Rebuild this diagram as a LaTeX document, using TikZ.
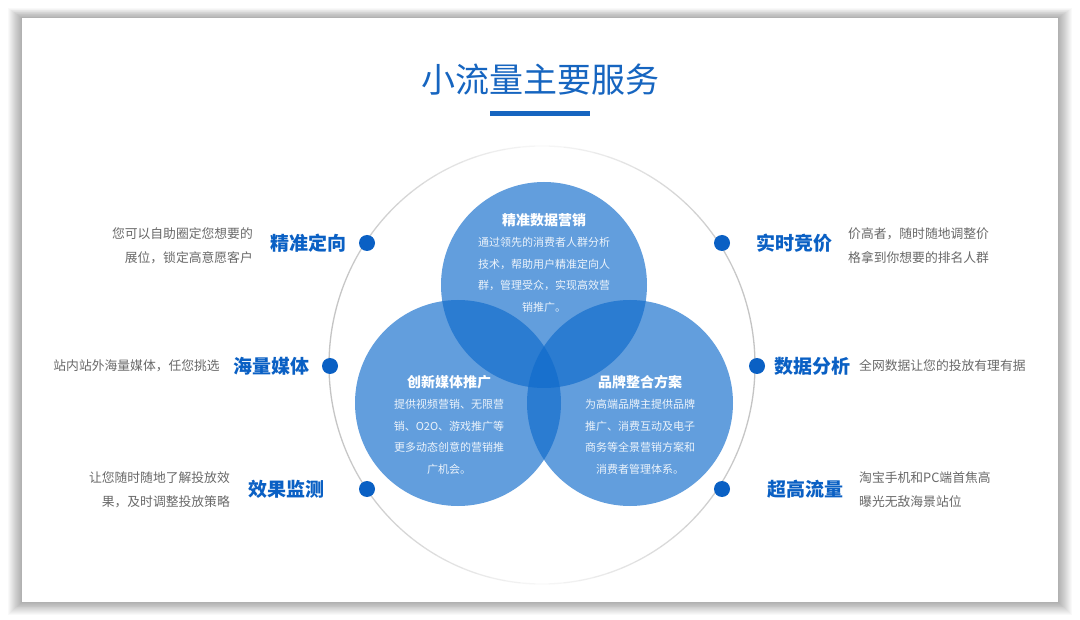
\documentclass[tikz,border=0pt]{standalone}
\usepackage{fontspec}
\setmainfont{Noto Sans CJK SC}
\usetikzlibrary{positioning}
\definecolor{titleblue}{RGB}{22,101,192}
\definecolor{keyblue}{RGB}{10,96,196}
\definecolor{vennblue}{RGB}{14,106,203}
\definecolor{descgray}{RGB}{105,105,105}
\definecolor{ringgray}{RGB}{165,165,165}

\begin{document}
\begin{tikzpicture}[x=1pt, y=-1pt,
    every node/.style={inner sep=0pt},
    venn/.style={circle, fill=vennblue, fill opacity=0.65, minimum size=206pt},
    venntitle/.style={text=white, font=\fontsize{14}{16}\selectfont\bfseries},
    vennbody/.style={text=white!92!vennblue, align=center, font=\fontsize{11}{21.5}\selectfont},
    keydot/.style={circle, fill=keyblue, minimum size=16pt},
    keylabel/.style={text=keyblue, font=\fontsize{19}{22}\selectfont\bfseries},
    keydesc/.style={text=descgray, font=\fontsize{12.8}{24}\selectfont}]
        \useasboundingbox[fill=white] (0,0) rectangle (1080,620);

        % slide and its shadow
        \foreach \i in {1,...,14}
            \fill[black, opacity=0.022] (22-\i,18-0.7*\i) rectangle (1058+\i,602+0.9*\i);
        \fill[white] (22,18) rectangle (1058,602);

        \node[text=titleblue, font=\fontsize{34}{40}\selectfont] (title) at (540,80) {小流量主要服务};
        \node[fill=titleblue, minimum width=100pt, minimum height=5pt] (bar) at (540,113.5) {};

        % outer ring, faint at top and bottom
        \coordinate (ring) at (542,365);
        \foreach \a in {0,4,...,356}{
            \pgfmathsetmacro\op{0.06+0.6*abs(cos(\a+2))}
            \draw[ringgray, line width=1.3pt, draw opacity=\op] (ring) ++(\a:213 and 219) arc[start angle=\a, end angle=\a+4, x radius=213, y radius=219];
        }

        \node[venn] (vtop) at (544,285) {};
        \node[venn] (vleft) at (458,403) {};
        \node[venn] (vright) at (630,403) {};

        \node[venntitle] (ttop) at (544,220) {精准数据营销};
        \node[vennbody] (btop) at (544,275) {通过领先的消费者人群分析\\技术，帮助用户精准定向人\\群，管理受众，实现高效营\\销推广。};
        \node[venntitle] (tleft) at (449,382) {创新媒体推广};
        \node[vennbody] (bleft) at (449,437) {提供视频营销、无限营\\销、O2O、游戏推广等\\更多动态创意的营销推\\广机会。};
        \node[venntitle] (tright) at (640,382) {品牌整合方案};
        \node[vennbody] (bright) at (640,437) {为高端品牌主提供品牌\\推广、消费互动及电子\\商务等全景营销方案和\\消费者管理体系。};

        \node[keydot] (d1) at (367,243) {};
        \node[keydot] (d2) at (330,366) {};
        \node[keydot] (d3) at (367,489) {};
        \node[keydot] (d4) at (722,243) {};
        \node[keydot] (d5) at (757,366) {};
        \node[keydot] (d6) at (722,489) {};

        \node[keylabel] (k1) at (308,243) {精准定向};
        \node[keylabel] (k2) at (271,366) {海量媒体};
        \node[keylabel] (k3) at (286,489) {效果监测};
        \node[keylabel] (k4) at (794,243) {实时竞价};
        \node[keylabel] (k5) at (812,366) {数据分析};
        \node[keylabel] (k6) at (805,489) {超高流量};

        \node[keydesc, anchor=east, align=right] (t1) at (253,246) {您可以自助圈定您想要的\\展位，锁定高意愿客户};
        \node[keydesc, anchor=east] (t2) at (220,366) {站内站外海量媒体，任您挑选};
        \node[keydesc, anchor=east, align=right] (t3) at (230,490) {让您随时随地了解投放效\\果，及时调整投放策略};
        \node[keydesc, anchor=west, align=left] (t4) at (848,246) {价高者，随时随地调整价\\格拿到你想要的排名人群};
        \node[keydesc, anchor=west] (t5) at (859,366) {全网数据让您的投放有理有据};
        \node[keydesc, anchor=west, align=left] (t6) at (859,490) {淘宝手机和PC端首焦高\\曝光无敌海景站位};
    \end{tikzpicture}
\end{document}
